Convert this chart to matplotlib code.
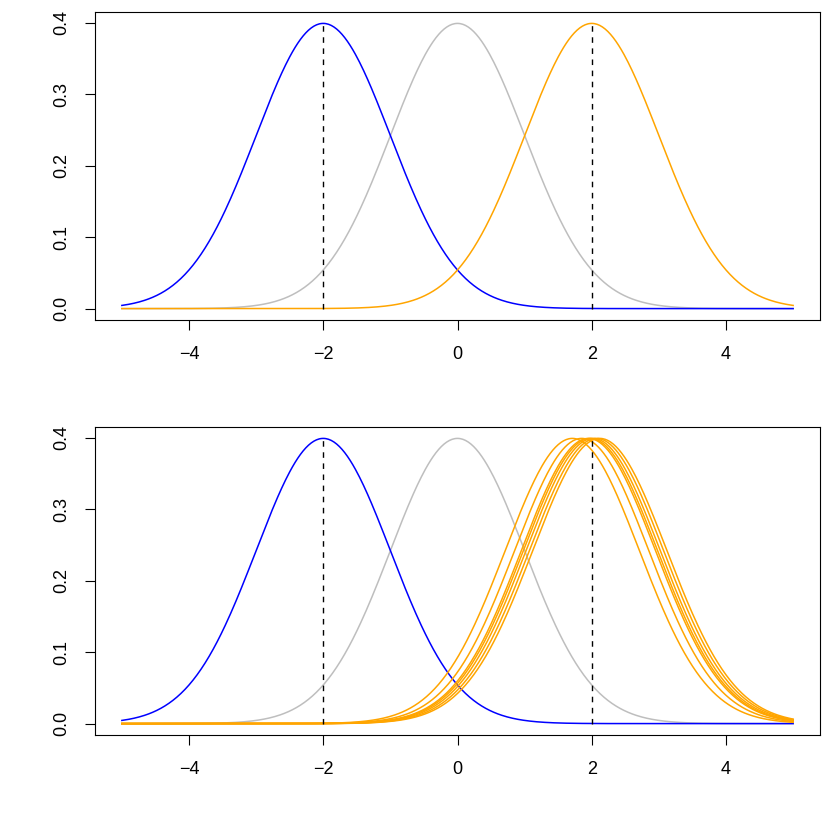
import numpy as np
import matplotlib
matplotlib.use("Agg")
import matplotlib.pyplot as plt

plt.rcParams['font.family'] = ['Liberation Sans', 'DejaVu Sans']

# Data
top_means = [0.0, -2.0, 2.0]
top_colors = ['#BEBEBE', '#0000FF', '#FFA500']
bottom_base_means = [0.0, -2.0]
bottom_base_colors = ['#BEBEBE', '#0000FF']
orange_means = [1.71, 1.85, 1.95, 1.98, 2.02, 2.07, 2.12]
sd = 1.0
dashed_x = [-2.0, 2.0]
xticks = [-4, -2, 0, 2, 4]
yticks = [0.0, 0.1, 0.2, 0.3, 0.4]

x = np.linspace(-5, 5, 501)
def dnorm(v, m, s=1.0):
    return np.exp(-0.5 * ((v - m) / s) ** 2) / (s * np.sqrt(2 * np.pi))

fig = plt.figure(figsize=(8.3, 8.3), dpi=100)
ax1 = fig.add_axes([95/830, 1 - 320/830, 725/830, 308/830])
ax2 = fig.add_axes([95/830, 1 - 735/830, 725/830, 308/830])

peak = dnorm(0, 0)

def style(ax):
    ax.set_xlim(-5.4, 5.4)
    ax.set_ylim(-0.04 * peak, peak * 1.04)
    ax.set_xticks(xticks)
    ax.set_xticklabels([f"{t:d}".replace('-', '\u2212') for t in xticks])
    ax.set_yticks(yticks)
    ax.set_yticklabels([f"{t:.1f}" for t in yticks], rotation=90, va='center')
    ax.tick_params(direction='out', length=7, width=0.8, labelsize=13)
    ax.tick_params(axis='x', pad=12)
    ax.tick_params(axis='y', pad=11)
    for sp in ax.spines.values():
        sp.set_linewidth(0.8)

for m, c in zip(top_means, top_colors):
    ax1.plot(x, dnorm(x, m, sd), color=c, lw=1.1)
for d in dashed_x:
    ax1.plot([d, d], [0, peak], color='black', lw=1.0, dashes=(4, 4))
style(ax1)

for m, c in zip(bottom_base_means, bottom_base_colors):
    ax2.plot(x, dnorm(x, m, sd), color=c, lw=1.1)
for m in orange_means:
    ax2.plot(x, dnorm(x, m, sd), color='#FFA500', lw=1.1)
for d in dashed_x:
    ax2.plot([d, d], [0, peak], color='black', lw=1.0, dashes=(4, 4))
style(ax2)

fig.savefig('out.png', dpi=100)
